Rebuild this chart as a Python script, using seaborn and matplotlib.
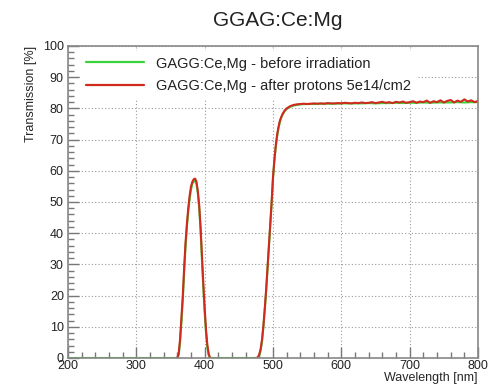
import pandas as pd
import matplotlib.pyplot as plt
from matplotlib.lines import Line2D
from matplotlib.ticker import MultipleLocator
import seaborn as sns

# ---- data ----
label_before = "GAGG:Ce,Mg - before irradiation"
label_after = "GAGG:Ce,Mg - after protons 5e14/cm2"

# absorption window around 385 nm
peak_wl = [358, 360, 362, 364, 366, 368, 370, 372, 374, 376, 378, 380, 382, 384,
           386, 388, 390, 392, 394, 396, 398, 400, 402, 404, 406, 408, 410]
peak_after = [0, 0, 1.5, 6, 13, 20, 29, 37, 43, 48, 52, 55, 56.5, 57.3,
              57.5, 56.5, 53.5, 49, 42, 33, 24, 16, 9, 4, 1.2, 0, 0]
peak_before = [0, 0, 1.0, 5, 11.5, 18.5, 27.5, 35.5, 42, 47, 51, 54, 55.8, 56.6,
               56.8, 55.8, 52.8, 48, 41, 31.5, 22.5, 14.5, 8, 3.3, 0.8, 0, 0]

# absorption edge near 500 nm
edge_wl = [474, 476, 478, 480, 482, 484, 486, 488, 490, 492, 494, 496, 498,
           500, 502, 504, 506, 508, 510, 512, 514, 517, 520, 525, 530, 535]
edge_after = [0, 0, 0.3, 1.2, 3, 6, 10.5, 16, 22, 29, 36, 43, 50,
              58, 63.5, 68, 71.5, 74, 76, 77.2, 78.2, 79.3, 80, 80.7, 81.1, 81.3]
edge_before = [0, 0, 0, 0.8, 2.5, 5.5, 10, 15.5, 21.5, 28.5, 35.5, 42.5, 49.5,
               57.5, 63, 67.5, 71, 73.6, 75.6, 77, 78, 79.1, 79.8, 80.5, 80.9, 81.1]

# plateau
plat_wl_after = [540, 545, 550, 555, 560, 565, 570, 575, 580, 585, 590, 595, 600,
                 605, 610, 615, 620, 625, 630, 635, 640, 645, 650, 655, 660, 665,
                 670, 675, 680, 685, 690, 695, 700, 705, 710, 715, 720, 725, 730,
                 735, 740, 745, 750, 755, 760, 765, 770, 775, 780, 785, 790, 795, 800]
plat_after = [81.4, 81.5, 81.4, 81.5, 81.6, 81.5, 81.6, 81.5, 81.7, 81.6, 81.6, 81.7, 81.6,
              81.8, 81.7, 81.6, 81.8, 81.7, 81.9, 81.7, 81.8, 82.0, 81.7, 81.9, 82.1, 81.8,
              82.0, 81.7, 82.1, 81.9, 82.2, 81.8, 82.0, 82.3, 81.8, 82.2, 82.0, 82.5, 81.8,
              82.3, 82.0, 82.6, 81.9, 82.4, 82.7, 81.9, 82.5, 82.1, 82.9, 82.2, 82.6, 82.0, 82.4]
plat_wl_before = [540, 550, 560, 570, 580, 590, 600, 610, 620, 630, 640, 650, 660, 670,
                  680, 690, 700, 710, 720, 730, 740, 750, 760, 770, 780, 790, 800]
plat_before = [81.3, 81.4, 81.4, 81.5, 81.5, 81.5, 81.6, 81.6, 81.6, 81.6, 81.7, 81.6, 81.7, 81.7,
               81.8, 81.7, 81.8, 81.8, 81.9, 81.8, 81.9, 81.9, 81.9, 82.0, 81.9, 82.0, 82.0]

# ---- long-form table (after-irradiation curve is drawn in two pieces) ----
before_wl = [200] + peak_wl + edge_wl + plat_wl_before
before_tr = [0] + peak_before + edge_before + plat_before
df_before = pd.DataFrame({"wavelength": before_wl, "transmission": before_tr,
                          "sample": label_before, "segment": 0})
df_after_peak = pd.DataFrame({"wavelength": peak_wl, "transmission": peak_after,
                              "sample": label_after, "segment": 1})
df_after_edge = pd.DataFrame({"wavelength": edge_wl + plat_wl_after,
                              "transmission": edge_after + plat_after,
                              "sample": label_after, "segment": 2})
df = pd.concat([df_before, df_after_peak, df_after_edge], ignore_index=True)

colors = {label_before: "#3ad23a", label_after: "#d02a1e"}

sns.set_theme(style="white")
plt.rcParams["font.family"] = ["Liberation Sans", "DejaVu Sans"]
plt.rcParams["text.color"] = "#222222"

fig = plt.figure(figsize=(4.91, 3.91), dpi=100)
ax = fig.add_axes([68 / 491, 1 - 358 / 391, 410 / 491, 312 / 391])

sns.lineplot(data=df, x="wavelength", y="transmission", hue="sample",
             hue_order=[label_before, label_after], units="segment", estimator=None,
             palette=colors, linewidth=1.5, legend=False, ax=ax)

ax.set_xlim(200, 800)
ax.set_ylim(0, 100)
ax.xaxis.set_major_locator(MultipleLocator(100))
ax.xaxis.set_minor_locator(MultipleLocator(20))
ax.yaxis.set_major_locator(MultipleLocator(10))
ax.yaxis.set_minor_locator(MultipleLocator(2))

ax.grid(True, which="major", linestyle=(0, (1, 2)), color="#9a9a9a", linewidth=0.8)
ax.set_axisbelow(True)
ax.tick_params(which="major", direction="in", length=8, width=1.0, color="#777777",
               labelsize=9, labelcolor="#222222", top=False, right=False,
               bottom=True, left=True)
ax.tick_params(which="minor", direction="in", length=4, width=1.0, color="#777777",
               top=False, right=False, bottom=True, left=True)
ax.tick_params(axis="x", pad=1.5)
ax.tick_params(axis="y", pad=3)
for sp in ax.spines.values():
    sp.set_color("#888888")
    sp.set_linewidth(1.2)

ax.set_xlabel("Wavelength [nm]", loc="right", fontsize=9, labelpad=0)
ax.set_ylabel("Transmission [%]", loc="top", fontsize=9, labelpad=4)

handles = [Line2D([], [], color=colors[label_before], linewidth=1.6),
           Line2D([], [], color=colors[label_after], linewidth=1.6)]
leg = ax.legend(handles, [label_before, label_after], loc="upper left",
                bbox_to_anchor=(0.03, 0.985), borderaxespad=0, fontsize=10.5,
                handlelength=4.0, handletextpad=0.8, labelspacing=0.6,
                borderpad=0.4, frameon=True, fancybox=False, framealpha=1)
leg.get_frame().set_facecolor("white")
leg.get_frame().set_edgecolor("none")
leg.set_zorder(1.5)  # keep the box over the grid but under the curves

fig.text(278 / 491, 1 - 21 / 391, "GGAG:Ce:Mg", ha="center", va="center", fontsize=15)

fig.savefig("out.png", dpi=100)
